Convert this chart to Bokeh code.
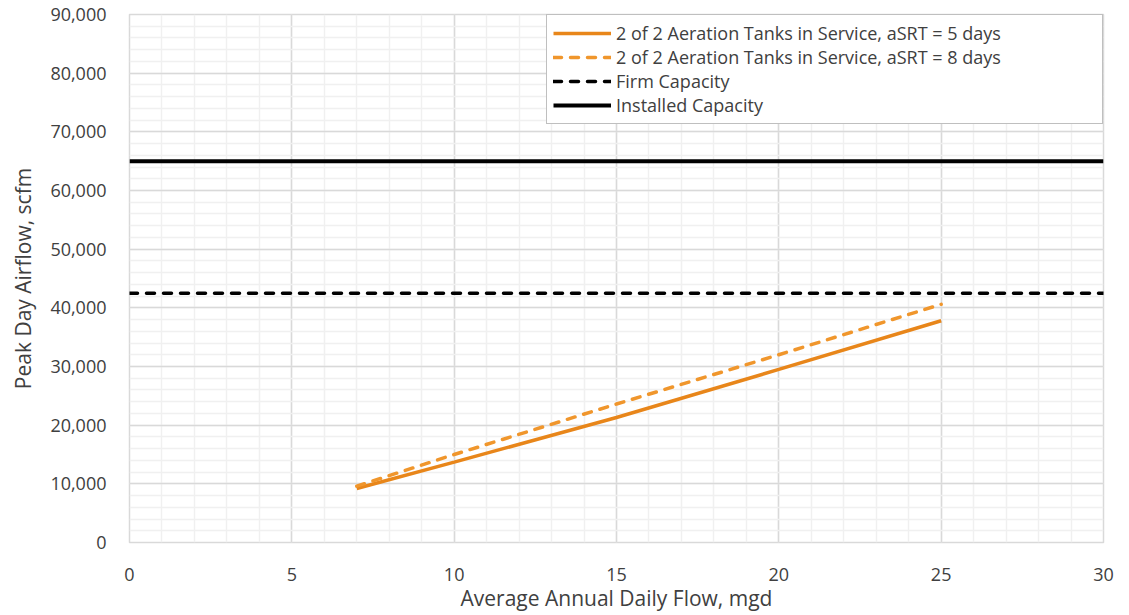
from bokeh.plotting import figure
from bokeh.models import SingleIntervalTicker, NumeralTickFormatter, Legend, LegendItem, Range1d
from bokeh.embed import file_html
from bokeh.resources import INLINE

# Data
flow_mgd = [7, 10, 15, 20, 25]
asrt5_scfm = [9200, 13700, 21300, 29500, 37800]
asrt8_scfm = [9600, 15000, 23600, 32000, 40600]
firm_capacity = 42500
installed_capacity = 65000
x_limits = [0, 30]
y_limits = [0, 90000]

FONT = "Open Sans"
TXT = "#404040"

p = figure(width=1125, height=615, output_backend="svg", toolbar_location=None,
           x_range=Range1d(*x_limits), y_range=Range1d(*y_limits),
           min_border_left=129, min_border_right=22, min_border_top=14, min_border_bottom=73)
p.outline_line_color = "#d9d9d9"
p.outline_line_width = 1.5

p.xaxis.ticker = SingleIntervalTicker(interval=5, num_minor_ticks=5)
p.yaxis.ticker = SingleIntervalTicker(interval=10000, num_minor_ticks=5)
p.xgrid.ticker = p.xaxis.ticker
p.ygrid.ticker = p.yaxis.ticker
p.yaxis.formatter = NumeralTickFormatter(format="0,0")
for g in (p.xgrid, p.ygrid):
    g.grid_line_color = "#d9d9d9"
    g.grid_line_width = 1.5
    g.minor_grid_line_color = "#f0f0f0"
    g.minor_grid_line_width = 1.5

for ax in (p.xaxis, p.yaxis):
    ax.axis_line_color = None
    ax.major_tick_line_color = None
    ax.minor_tick_line_color = None
    ax.major_label_text_font = FONT
    ax.major_label_text_font_size = "18px"
    ax.major_label_text_color = TXT
    ax.axis_label_text_font = FONT
    ax.axis_label_text_font_size = "21px"
    ax.axis_label_text_color = TXT
    ax.axis_label_text_font_style = "normal"

p.xaxis.axis_label = "Average Annual Daily Flow, mgd"
p.yaxis.axis_label = "Peak Day Airflow, scfm"
p.xaxis.major_label_standoff = 19
p.yaxis.major_label_standoff = 17
p.xaxis.axis_label_standoff = 0
p.yaxis.axis_label_standoff = 10

r5 = p.line(flow_mgd, asrt5_scfm, line_color="#E8861A", line_width=3.5)
r8 = p.line(flow_mgd, asrt8_scfm, line_color="#F0962C", line_width=3.5,
            line_dash="8 9", line_cap="round")
rf = p.line(x_limits, [firm_capacity, firm_capacity], line_color="black", line_width=3.5,
            line_dash="8 9", line_cap="round")
ri = p.line(x_limits, [installed_capacity, installed_capacity], line_color="black", line_width=4)

legend = Legend(items=[
    LegendItem(label="2 of 2 Aeration Tanks in Service, aSRT = 5 days", renderers=[r5]),
    LegendItem(label="2 of 2 Aeration Tanks in Service, aSRT = 8 days", renderers=[r8]),
    LegendItem(label="Firm Capacity", renderers=[rf]),
    LegendItem(label="Installed Capacity", renderers=[ri]),
], location="top_right", margin=0, padding=6, spacing=0, label_height=20,
   glyph_height=20, glyph_width=58, label_standoff=5, label_width=480,
   border_line_color="#808080", border_line_width=1.5,
   label_text_font=FONT, label_text_font_size="18px", label_text_color=TXT,
   background_fill_alpha=1.0)
p.add_layout(legend)

open("out.html", "w").write(file_html(p, INLINE))
